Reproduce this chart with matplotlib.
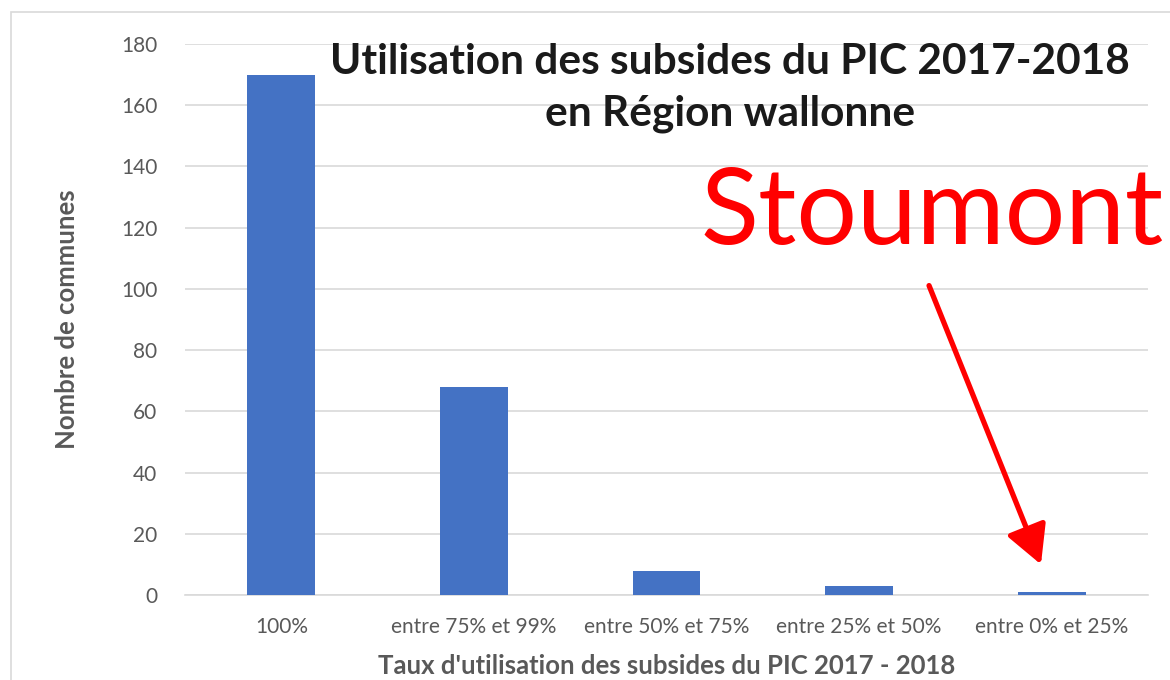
import matplotlib
matplotlib.use("Agg")
import matplotlib.pyplot as plt
from matplotlib.patches import Rectangle, FancyArrowPatch

categories = ["100%", "entre 75% et 99%", "entre 50% et 75%", "entre 25% et 50%", "entre 0% et 25%"]
communes = [170, 68, 8, 3, 1]
y_ticks = [0, 20, 40, 60, 80, 100, 120, 140, 160, 180]

plt.rcParams["font.family"] = ["Lato", "DejaVu Sans"]

fig = plt.figure(figsize=(11.7, 6.8), dpi=100)
W, H = 1170, 680
ax = fig.add_axes([185 / W, 1 - 595 / H, (1148 - 185) / W, (595 - 44) / H])

# outer chart frame
fig.patches.append(Rectangle((11 / W, -0.01), 1.2, 1 - 12 / H + 0.01, transform=fig.transFigure,
                             fill=False, edgecolor="#d9d9d9", linewidth=1.2))

x = range(len(categories))
ax.bar(x, communes, width=0.353, color="#4472c4", zorder=3)
ax.set_xlim(-0.5, len(categories) - 0.5)
ax.set_ylim(0, 180)
ax.set_yticks(y_ticks)
ax.set_xticks(list(x))
ax.set_xticklabels(categories)
ax.grid(axis="y", color="#d9d9d9", linewidth=1.2, zorder=0)
for s in ["top", "right", "left"]:
    ax.spines[s].set_visible(False)
ax.spines["bottom"].set_color("#d9d9d9")
ax.spines["bottom"].set_linewidth(1.2)
ax.tick_params(length=0, labelsize=15, colors="#595959")
ax.tick_params(axis="x", pad=16)
ax.tick_params(axis="y", pad=20)

ax.set_ylabel("Nombre de communes", fontsize=18.5, fontweight="bold", color="#595959", labelpad=30)
ax.set_xlabel("Taux d'utilisation des subsides du PIC 2017 - 2018", fontsize=18.5, fontweight="bold",
              color="#595959", labelpad=12)

fig.text(730 / W, 1 - 88 / H, "Utilisation des subsides du PIC 2017-2018\nen Région wallonne",
         ha="center", va="center", fontsize=30.5, fontweight="bold", color="#1a1a1a", linespacing=1.45)

fig.text(932 / W, 1 - 214 / H, "Stoumont", ha="center", va="center", fontsize=77, color="#ff0000")

arrow = FancyArrowPatch((928 / W, 1 - 283 / H), (1042 / W, 1 - 567 / H), transform=fig.transFigure,
                        arrowstyle="-|>,head_length=1.3,head_width=0.7", mutation_scale=18,
                        linewidth=3.8, color="#ff0000")
fig.patches.append(arrow)

fig.savefig("out.png", dpi=100)
